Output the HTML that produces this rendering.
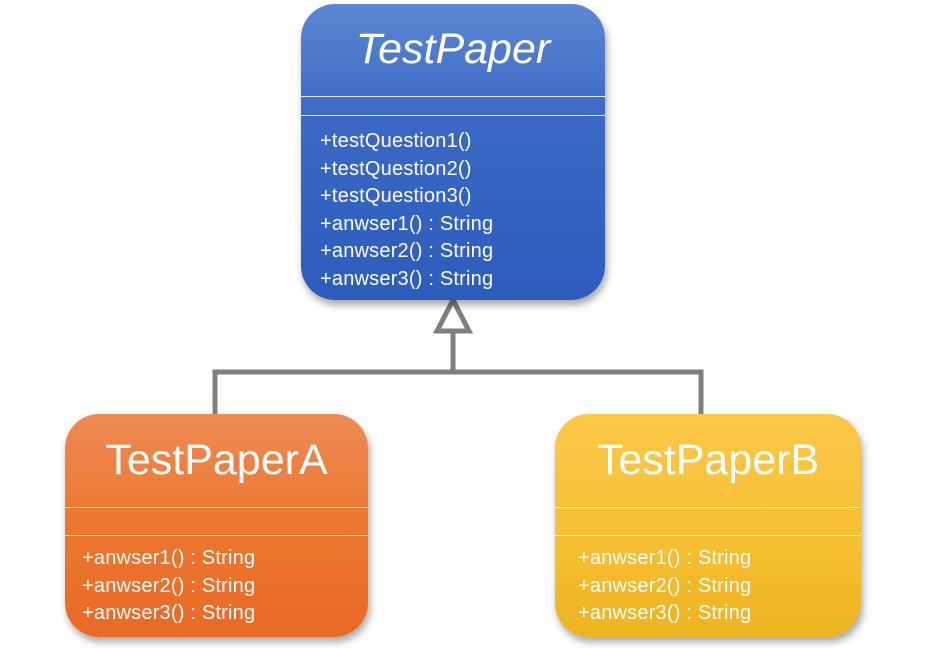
<!DOCTYPE html>
<html><head><meta charset="utf-8"><style>
html,body{margin:0;padding:0;background:#fff;width:928px;height:651px;overflow:hidden;font-family:"Liberation Sans","Noto Sans CJK SC",sans-serif}
.box{position:absolute;border-radius:34px;box-shadow:2px 5px 8px rgba(0,0,0,0.35);color:#fff;overflow:hidden}
.hl{position:absolute;left:0;right:0;height:1px;background:rgba(255,255,255,0.85)}
.t{position:absolute;left:0;right:0;text-align:center;white-space:nowrap}
.m{position:absolute;font-size:20px;line-height:27.5px;white-space:nowrap;letter-spacing:0.2px}
</style></head><body>
<svg width="928" height="651" style="position:absolute;left:0;top:0">
<g stroke="#7f7f7f" stroke-width="5" fill="none">
<polyline points="215,414 215,372 701,372 701,414"/>
<line x1="453" y1="372" x2="453" y2="331"/>
<polygon points="453,300 437,331 469,331" fill="#fff"/>
</g></svg>
<div class="box" style="left:301px;top:4px;width:304px;height:296px;background:linear-gradient(#5b87d2,#3a68c4 40%,#2e5cbd)">
<div class="t" style="top:20px;font-size:43px;font-style:italic;line-height:50px">TestPaper</div>
<div class="hl" style="top:92px"></div><div class="hl" style="top:111px"></div>
<div class="m" style="left:19px;top:124px">+testQuestion1()<br>+testQuestion2()<br>+testQuestion3()<br>+anwser1() : String<br>+anwser2() : String<br>+anwser3() : String</div>
</div>
<div class="box" style="left:65px;top:414px;width:303px;height:223px;background:linear-gradient(#ee8a54,#ec772f 50%,#e86a27)">
<div class="t" style="top:21px;font-size:43px;line-height:50px">TestPaperA</div>
<div class="hl" style="top:93px"></div><div class="hl" style="top:121px"></div>
<div class="m" style="left:17px;top:131px">+anwser1() : String<br>+anwser2() : String<br>+anwser3() : String</div>
</div>
<div class="box" style="left:555px;top:414px;width:306px;height:223px;background:linear-gradient(#fbc848,#f8c036 50%,#ecb420)">
<div class="t" style="top:21px;font-size:43px;line-height:50px">TestPaperB</div>
<div class="hl" style="top:93px"></div><div class="hl" style="top:121px"></div>
<div class="m" style="left:23px;top:131px">+anwser1() : String<br>+anwser2() : String<br>+anwser3() : String</div>
</div>
</body></html>
